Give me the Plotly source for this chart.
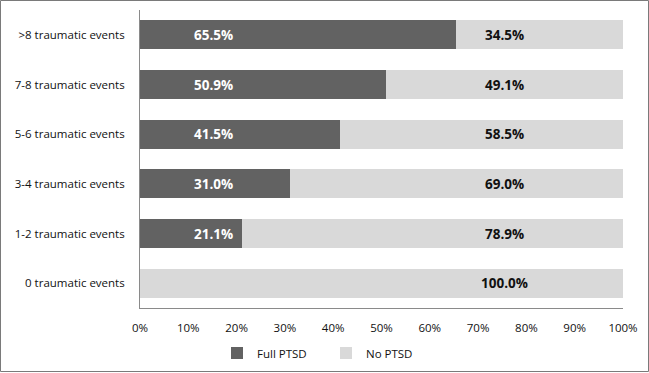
import plotly.graph_objects as go

categories = [">8 traumatic events", "7-8 traumatic events", "5-6 traumatic events",
              "3-4 traumatic events", "1-2 traumatic events", "0 traumatic events"]
full_ptsd = [65.5, 50.9, 41.5, 31.0, 21.1, 0.0]
no_ptsd = [34.5, 49.1, 58.5, 69.0, 78.9, 100.0]
tick_vals = [0, 10, 20, 30, 40, 50, 60, 70, 80, 90, 100]
tick_text = [f"{v}%" for v in tick_vals]

DARK = "#626262"
LIGHT = "#d9d9d9"
FONT = "Open Sans"

fig = go.Figure()
fig.add_trace(go.Bar(y=categories, x=full_ptsd, orientation="h", name="Full PTSD",
                     marker=dict(color=DARK, line=dict(width=0)), width=0.59))
fig.add_trace(go.Bar(y=categories, x=no_ptsd, orientation="h", name="No PTSD",
                     marker=dict(color=LIGHT, line=dict(width=0)), width=0.59))

for c, v in zip(categories, full_ptsd):
    if v > 0:
        fig.add_annotation(x=15.3, y=c, text=f"<b>{v:.1f}%</b>", showarrow=False,
                           font=dict(color="white", size=13.5, family=FONT))
for c, v in zip(categories, no_ptsd):
    fig.add_annotation(x=75.5, y=c, text=f"<b>{v:.1f}%</b>", showarrow=False,
                       font=dict(color="#111111", size=13.5, family=FONT))

# outer frame
fig.add_shape(type="rect", xref="paper", yref="paper",
              x0=-139.5/483, x1=508.5/483, y0=-63.5/298, y1=1 + 9.5/298,
              line=dict(color="#7a7a7a", width=1), fillcolor="rgba(0,0,0,0)")

fig.update_layout(
    template="none",
    width=649, height=373,
    margin=dict(l=140, r=26, t=10, b=65, autoexpand=False),
    barmode="stack", bargap=0.41,
    plot_bgcolor="white", paper_bgcolor="white",
    font=dict(family=FONT, size=11.5, color="#111111"),
    showlegend=True,
    legend=dict(orientation="h", xref="container", yref="container",
                x=326/649, xanchor="center", y=(373-353)/373, yanchor="middle",
                font=dict(size=11.5, family=FONT), entrywidth=64, itemwidth=30,
                traceorder="normal", bgcolor="rgba(0,0,0,0)"),
    xaxis=dict(range=[0, 100], tickvals=tick_vals, ticktext=tick_text, showgrid=False,
               zeroline=False, showline=True, linecolor="#8a8a8a", linewidth=1,
               ticks="", ticklabelstandoff=9, fixedrange=True, automargin=False),
    yaxis=dict(categoryorder="array", categoryarray=categories, autorange="reversed",
               showgrid=False, zeroline=False, showline=True, linecolor="#8a8a8a",
               linewidth=1, ticks="", ticklabelstandoff=12, fixedrange=True,
               automargin=False),
)

fig.write_html("out.html", config={"displayModeBar": False},
               post_script="document.body.style.margin='0';document.body.style.padding='0';")
